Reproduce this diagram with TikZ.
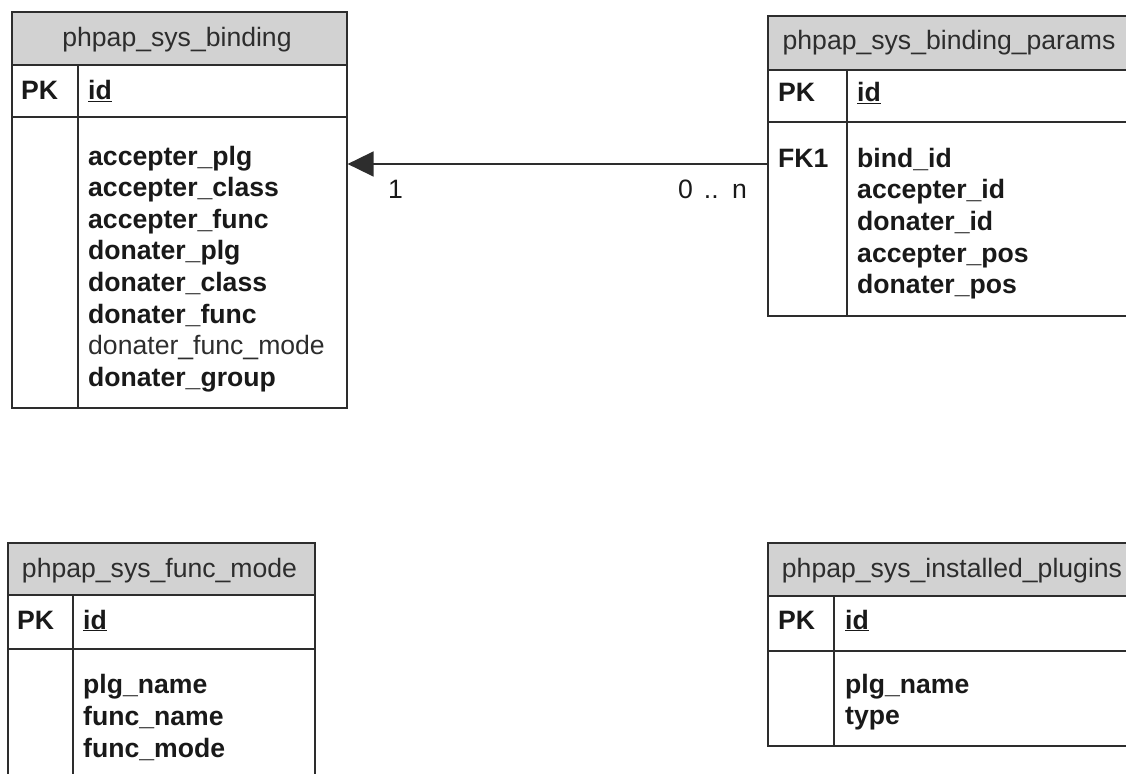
\documentclass[tikz,border=0pt]{standalone}
\usepackage{fontspec}
\setmainfont{Liberation Sans}
\usetikzlibrary{arrows.meta}
\definecolor{hdr}{RGB}{210,210,210}
\definecolor{ln}{RGB}{45,45,45}
\definecolor{tx}{RGB}{25,25,25}
\definecolor{ttl}{RGB}{45,45,45}
\begin{document}
\begin{tikzpicture}[x=1pt,y=-1pt,
  tbl/.style={draw=ln, line width=1.6pt, inner sep=0pt, anchor=north west},
  rule/.style={draw=ln, line width=1.6pt},
  ttlnode/.style={anchor=base, inner sep=0pt, text=ttl, font=\fontsize{26.6}{32}\selectfont},
  fld/.style={anchor=base west, inner sep=0pt, text=tx, font=\fontsize{26.6}{32}\selectfont\bfseries},
  fldreg/.style={anchor=base west, inner sep=0pt, text=ttl, font=\fontsize{26.6}{32}\selectfont},
  card/.style={inner sep=0pt, text=tx, font=\fontsize{26.6}{32}\selectfont},
  rel/.style={draw=ln, line width=1.6pt, -{Triangle[length=26pt,width=25pt]}}
]
\useasboundingbox (0,0) rectangle (1126,773);
\clip (0,0) rectangle (1126,773);

% ---------- phpap_sys_binding ----------
\fill[hdr] (11,11) rectangle (346,65);
\node[tbl, minimum width=335pt, minimum height=396pt] (t1) at (11,11) {};
\draw[rule] (t1.west |- 0,65) -- (t1.east |- 0,65);
\draw[rule] (t1.west |- 0,117) -- (t1.east |- 0,117);
\draw[rule] (78,65) -- (78,407);
\node[ttlnode] (t1title) at (177,47) {phpap\_sys\_binding};
\node[fld] (t1pk) at (21,100) {PK};
\node[fld] (t1id) at (88,100) {\underline{id}};
\foreach \t [count=\i from 0] in {accepter\_plg,accepter\_class,accepter\_func,donater\_plg,donater\_class,donater\_func}
  \node[fld] (t1f\i) at (88,165+31.6*\i) {\t};
\node[fldreg] (t1f6) at (88,354.6) {donater\_func\_mode};
\node[fld] (t1f7) at (88,386.2) {donater\_group};

% ---------- phpap_sys_binding_params ----------
\fill[hdr] (767,15) rectangle (1131,70);
\node[tbl, minimum width=364pt, minimum height=300pt] (t2) at (767,15) {};
\draw[rule] (t2.west |- 0,70) -- (t2.east |- 0,70);
\draw[rule] (t2.west |- 0,122) -- (t2.east |- 0,122);
\draw[rule] (847,70) -- (847,315);
\node[ttlnode] (t2title) at (949,50) {phpap\_sys\_binding\_params};
\node[fld] (t2pk) at (778,102) {PK};
\node[fld] (t2id) at (857,102) {\underline{id}};
\node[fld] (t2fk) at (778,167) {FK1};
\foreach \t [count=\i from 0] in {bind\_id,accepter\_id,donater\_id,accepter\_pos,donater\_pos}
  \node[fld] (t2f\i) at (857,167+31.7*\i) {\t};

% ---------- relation ----------
\draw[rel] (t2.west |- 0,164) -- (t1.east |- 0,164);
\node[card, anchor=base west] (c1) at (388,198) {1};
\node[card, anchor=base east] (cn) at (747,198) {0 \hspace{3.5pt}.. \hspace{3.5pt}n};

% ---------- phpap_sys_func_mode ----------
\fill[hdr] (7,542) rectangle (314,595);
\node[tbl, minimum width=307pt, minimum height=270pt] (t3) at (7,542) {};
\draw[rule] (t3.west |- 0,595) -- (t3.east |- 0,595);
\draw[rule] (t3.west |- 0,649) -- (t3.east |- 0,649);
\draw[rule] (73,595) -- (73,812);
\node[ttlnode] (t3title) at (159.5,577) {phpap\_sys\_func\_mode};
\node[fld] (t3pk) at (17,629) {PK};
\node[fld] (t3id) at (83,629) {\underline{id}};
\foreach \t [count=\i from 0] in {plg\_name,func\_name,func\_mode}
  \node[fld] (t3f\i) at (83,693+32*\i) {\t};

% ---------- phpap_sys_installed_plugins ----------
\fill[hdr] (767,542) rectangle (1137,596);
\node[tbl, minimum width=370pt, minimum height=203pt] (t4) at (767,542) {};
\draw[rule] (t4.west |- 0,596) -- (t4.east |- 0,596);
\draw[rule] (t4.west |- 0,651) -- (t4.east |- 0,651);
\draw[rule] (834,596) -- (834,745);
\node[ttlnode] (t4title) at (952,577) {phpap\_sys\_installed\_plugins};
\node[fld] (t4pk) at (778,629) {PK};
\node[fld] (t4id) at (845,629) {\underline{id}};
\node[fld] (t4f0) at (845,693) {plg\_name};
\node[fld] (t4f1) at (845,724.5) {type};
\end{tikzpicture}
\end{document}
